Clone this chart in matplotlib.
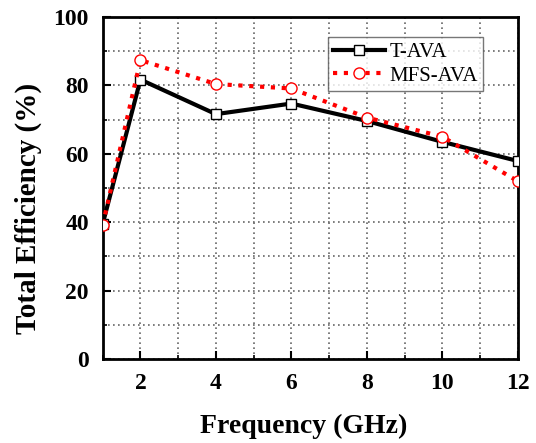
import matplotlib
matplotlib.use("Agg")
import matplotlib.pyplot as plt
from matplotlib.ticker import MultipleLocator

freq = [1, 2, 4, 6, 8, 10, 12]
t_ava = [39.5, 81.7, 71.6, 74.7, 69.6, 63.5, 57.9]
mfs_ava = [39.2, 87.4, 80.4, 79.1, 70.6, 65.0, 52.0]
xticks = [2, 4, 6, 8, 10, 12]
yticks = [0, 20, 40, 60, 80, 100]

plt.rcParams['font.family'] = ['Liberation Serif', 'DejaVu Serif']

fig = plt.figure(figsize=(5.36, 4.43), dpi=100)
ax = fig.add_axes([0.1916, 0.1896, 0.7744, 0.772])

ax.plot(freq, t_ava, color='black', lw=3, marker='s', ms=7, mfc='white',
        mec='black', mew=1, label='T-AVA', zorder=3)
ax.plot(freq, mfs_ava, color='red', lw=3, ls=(0, (1, 1.6)), marker='o', ms=8,
        mfc='white', mec='red', mew=1, label='MFS-AVA', zorder=4)

ax.set_xlim(1, 12)
ax.set_ylim(0, 100)
ax.set_xticks(xticks)
ax.set_yticks(yticks)
ax.xaxis.set_minor_locator(MultipleLocator(1))
ax.yaxis.set_minor_locator(MultipleLocator(10))
ax.grid(True, which='both', color='#666666', ls=(0, (1, 2)), lw=1.2)
ax.tick_params(which='major', direction='in', length=6, width=1.5,
               labelsize=17, pad=10)
ax.tick_params(which='minor', direction='in', length=3, width=1.2)
for lab in ax.get_xticklabels() + ax.get_yticklabels():
    lab.set_fontweight('bold')
for s in ax.spines.values():
    s.set_linewidth(2)

ax.set_xlabel('Frequency (GHz)', fontsize=20, fontweight='bold', labelpad=12)
ax.set_ylabel('Total Efficiency (%)', fontsize=21, fontweight='bold')
ax.yaxis.set_label_coords(-0.146, 0.44)
ax.xaxis.set_label_coords(0.485, -0.16)
ax.xaxis.label.set_va('top')

leg = ax.legend(loc='upper right', bbox_to_anchor=(0.916, 0.941), fontsize=15,
                frameon=True, fancybox=False, edgecolor='#555555',
                handlelength=2.5, borderpad=0.25, labelspacing=0.2,
                handletextpad=0.2, borderaxespad=0)
leg.get_frame().set_linewidth(1)

fig.savefig('out.png', dpi=100)
